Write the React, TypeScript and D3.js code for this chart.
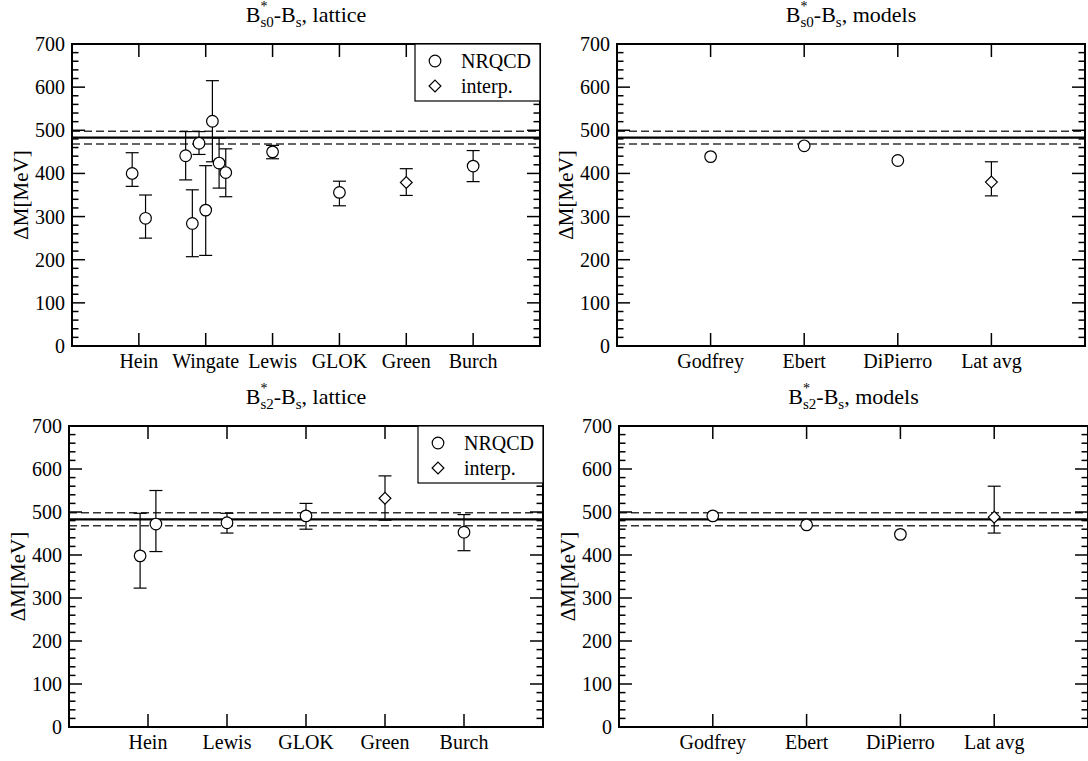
import React from 'react';
import * as d3 from 'd3';

const FONT = 'Liberation Serif, Tinos, Times New Roman, DejaVu Serif, serif';

// ---------- data ----------
const yTickValues = [0, 100, 200, 300, 400, 500, 600, 700];
const yMinorValues = d3.range(0, 701, 20);

// experimental band (central, low, high)
const expCentral = 483;
const expLow = 468;
const expHigh = 498;

// B*s0 - Bs, lattice
const s0LatticeCategories = ['Hein', 'Wingate', 'Lewis', 'GLOK', 'Green', 'Burch'];
const s0LatticeNrqcd = [
  { x: 0.9, y: 400, lo: 370, hi: 448 },
  { x: 1.1, y: 296, lo: 250, hi: 350 },
  { x: 1.7, y: 441, lo: 385, hi: 497 },
  { x: 1.8, y: 284, lo: 207, hi: 362 },
  { x: 1.9, y: 470, lo: 444, hi: 497 },
  { x: 2.0, y: 315, lo: 210, hi: 418 },
  { x: 2.1, y: 521, lo: 427, hi: 615 },
  { x: 2.2, y: 424, lo: 366, hi: 482 },
  { x: 2.3, y: 402, lo: 346, hi: 457 },
  { x: 3.0, y: 450, lo: 434, hi: 465 },
  { x: 4.0, y: 356, lo: 325, hi: 382 },
  { x: 6.0, y: 417, lo: 381, hi: 453 },
];
const s0LatticeInterp = [{ x: 5.0, y: 379, lo: 349, hi: 411 }];

// B*s0 - Bs, models
const s0ModelCategories = ['Godfrey', 'Ebert', 'DiPierro', 'Lat avg'];
const s0ModelPoints = [
  { x: 1, y: 439 },
  { x: 2, y: 464 },
  { x: 3, y: 430 },
];
const s0ModelInterp = [{ x: 4, y: 380, lo: 348, hi: 427 }];

// B*s2 - Bs, lattice
const s2LatticeCategories = ['Hein', 'Lewis', 'GLOK', 'Green', 'Burch'];
const s2LatticeNrqcd = [
  { x: 0.9, y: 398, lo: 323, hi: 497 },
  { x: 1.1, y: 472, lo: 408, hi: 550 },
  { x: 2.0, y: 475, lo: 451, hi: 497 },
  { x: 3.0, y: 491, lo: 460, hi: 520 },
  { x: 5.0, y: 453, lo: 410, hi: 494 },
];
const s2LatticeInterp = [{ x: 4.0, y: 532, lo: 481, hi: 584 }];

// B*s2 - Bs, models
const s2ModelCategories = ['Godfrey', 'Ebert', 'DiPierro', 'Lat avg'];
const s2ModelPoints = [
  { x: 1, y: 491 },
  { x: 2, y: 470 },
  { x: 3, y: 448 },
];
const s2ModelInterp = [{ x: 4, y: 488, lo: 451, hi: 560 }];

const legendLabels = ['NRQCD', 'interp.'];

type Pt = { x: number; y: number; lo?: number; hi?: number };

function Title({ cx, y, sub, label }: { cx: number; y: number; sub: string; label: string }) {
  return (
    <text x={cx} y={y} textAnchor="middle" fontFamily={FONT} fontSize={22} fill="#000">
      B
      <tspan dy={-11} fontSize={14}>*</tspan>
      <tspan dx={-7} dy={16} fontSize={15}>{sub}</tspan>
      <tspan dy={-5} fontSize={22}>-B</tspan>
      <tspan dy={5} fontSize={15}>s</tspan>
      <tspan dy={-5} fontSize={22}>{', ' + label}</tspan>
    </text>
  );
}

function Circle({ cx, cy }: { cx: number; cy: number }) {
  return <circle cx={cx} cy={cy} r={5.8} fill="#fff" stroke="#000" strokeWidth={1.2} />;
}

function Diamond({ cx, cy }: { cx: number; cy: number }) {
  const s = 5.9;
  return (
    <path
      d={`M${cx},${cy - s}L${cx + s},${cy}L${cx},${cy + s}L${cx - s},${cy}Z`}
      fill="#fff"
      stroke="#000"
      strokeWidth={1.2}
    />
  );
}

function Panel({
  box,
  xMax,
  categories,
  circles,
  diamonds,
  sub,
  label,
  legend,
}: {
  box: { l: number; r: number; t: number; b: number };
  xMax: number;
  categories: string[];
  circles: Pt[];
  diamonds: Pt[];
  sub: string;
  label: string;
  legend: boolean;
}) {
  const x = d3.scaleLinear().domain([0, xMax]).range([box.l, box.r]);
  const y = d3.scaleLinear().domain([0, 700]).range([box.b, box.t]);
  const cap = 6.5;
  const major = 13;
  const minor = 6.5;
  const all = [...circles, ...diamonds];
  return (
    <g>
      <Title cx={(box.l + box.r) / 2} y={box.t - 22} sub={sub} label={label} />
      {/* reference lines */}
      <line x1={box.l} x2={box.r} y1={y(expHigh)} y2={y(expHigh)} stroke="#333" strokeWidth={1.5} strokeDasharray="8,4" />
      <line x1={box.l} x2={box.r} y1={y(expLow)} y2={y(expLow)} stroke="#333" strokeWidth={1.5} strokeDasharray="8,4" />
      <line x1={box.l} x2={box.r} y1={y(expCentral)} y2={y(expCentral)} stroke="#000" strokeWidth={2.2} />
      {/* error bars */}
      {all
        .filter((p) => p.lo !== undefined && p.hi !== undefined)
        .map((p, i) => (
          <g key={'e' + i} stroke="#000" strokeWidth={1.2}>
            <line x1={x(p.x)} x2={x(p.x)} y1={y(p.lo as number)} y2={y(p.hi as number)} />
            <line x1={x(p.x) - cap} x2={x(p.x) + cap} y1={y(p.lo as number)} y2={y(p.lo as number)} />
            <line x1={x(p.x) - cap} x2={x(p.x) + cap} y1={y(p.hi as number)} y2={y(p.hi as number)} />
          </g>
        ))}
      {circles.map((p, i) => (
        <Circle key={'c' + i} cx={x(p.x)} cy={y(p.y)} />
      ))}
      {diamonds.map((p, i) => (
        <Diamond key={'d' + i} cx={x(p.x)} cy={y(p.y)} />
      ))}
      {/* y ticks */}
      {yMinorValues.map((v) => {
        const isMajor = v % 100 === 0;
        const len = isMajor ? major : minor;
        if (v === 0 || v === 700) return null;
        return (
          <g key={'yt' + v} stroke="#000" strokeWidth={1.5}>
            <line x1={box.l} x2={box.l + len} y1={y(v)} y2={y(v)} />
            <line x1={box.r} x2={box.r - len} y1={y(v)} y2={y(v)} />
          </g>
        );
      })}
      {yTickValues.map((v) => (
        <text
          key={'yl' + v}
          x={box.l - 7}
          y={y(v)}
          dy="0.35em"
          textAnchor="end"
          fontFamily={FONT}
          fontSize={20}
        >
          {v}
        </text>
      ))}
      {/* x ticks */}
      {categories.map((c, i) => (
        <g key={'xt' + i}>
          <line x1={x(i + 1)} x2={x(i + 1)} y1={box.b} y2={box.b - major} stroke="#000" strokeWidth={1.5} />
          <line x1={x(i + 1)} x2={x(i + 1)} y1={box.t} y2={box.t + major} stroke="#000" strokeWidth={1.5} />
          <text x={x(i + 1)} y={box.b + 22} textAnchor="middle" fontFamily={FONT} fontSize={20}>
            {c}
          </text>
        </g>
      ))}
      {/* y label */}
      <text
        transform={`translate(${box.l - 44},${(box.t + box.b) / 2}) rotate(-90)`}
        textAnchor="middle"
        fontFamily={FONT}
        fontSize={21}
      >
        ΔM[MeV]
      </text>
      {/* frame */}
      <rect x={box.l} y={box.t} width={box.r - box.l} height={box.b - box.t} fill="none" stroke="#000" strokeWidth={2} />
      {legend && (
        <g>
          <rect x={box.r - 125} y={box.t} width={125} height={57} fill="#fff" stroke="#000" strokeWidth={1.2} />
          <Circle cx={box.r - 105} cy={box.t + 17} />
          <text x={box.r - 79} y={box.t + 17} dy="0.35em" fontFamily={FONT} fontSize={20}>
            {legendLabels[0]}
          </text>
          <Diamond cx={box.r - 105} cy={box.t + 42} />
          <text x={box.r - 79} y={box.t + 42} dy="0.35em" fontFamily={FONT} fontSize={20}>
            {legendLabels[1]}
          </text>
        </g>
      )}
    </g>
  );
}

export default function App() {
  return (
    <svg
      width={1088}
      height={761}
      style={{ position: 'absolute', left: 0, top: 0, background: '#fff' }}
    >
      <rect x={0} y={0} width={1088} height={761} fill="#fff" />
      <Panel
        box={{ l: 72, r: 540, t: 44, b: 346 }}
        xMax={7}
        categories={s0LatticeCategories}
        circles={s0LatticeNrqcd}
        diamonds={s0LatticeInterp}
        sub="s0"
        label="lattice"
        legend={true}
      />
      <Panel
        box={{ l: 617, r: 1085, t: 44, b: 346 }}
        xMax={5}
        categories={s0ModelCategories}
        circles={s0ModelPoints}
        diamonds={s0ModelInterp}
        sub="s0"
        label="models"
        legend={false}
      />
      <Panel
        box={{ l: 69, r: 543, t: 426, b: 727 }}
        xMax={6}
        categories={s2LatticeCategories}
        circles={s2LatticeNrqcd}
        diamonds={s2LatticeInterp}
        sub="s2"
        label="lattice"
        legend={true}
      />
      <Panel
        box={{ l: 619, r: 1088, t: 426, b: 727 }}
        xMax={5}
        categories={s2ModelCategories}
        circles={s2ModelPoints}
        diamonds={s2ModelInterp}
        sub="s2"
        label="models"
        legend={false}
      />
    </svg>
  );
}
